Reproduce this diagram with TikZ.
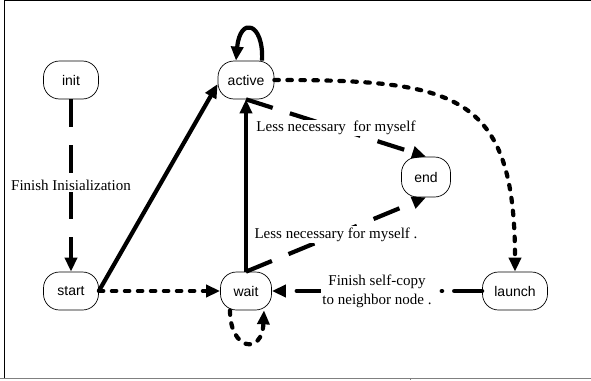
\documentclass[tikz,border=0pt]{standalone}
\usepackage{fontspec}
\setmainfont{Liberation Serif}
\newfontfamily\sansf{Liberation Sans}
\usetikzlibrary{arrows.meta}
\begin{document}
\begin{tikzpicture}[x=1pt,y=-1pt,
  state/.style={draw, line width=0.7pt, rounded corners=16pt, minimum height=38pt, inner sep=0pt, font=\sansf\fontsize{14}{16}\selectfont},
  conn/.style={line width=4.2pt, -{Triangle[length=14pt,width=12pt]}},
  solidc/.style={conn},
  dashc/.style={conn, dash pattern=on 28pt off 18pt},
  dotc/.style={conn, line cap=round, dash pattern=on 4.5pt off 8.5pt},
  dashdotc/.style={conn, line cap=round, dash pattern=on 28pt off 12pt on 0.5pt off 12pt},
  lbl/.style={fill=white, inner sep=1.5pt, font=\fontsize{15}{19}\selectfont, align=center}
]
\useasboundingbox (0,0) rectangle (591,380);
% frame
\draw[line width=1.3pt] (4,0.6) -- (591,0.6);
\draw[line width=1pt] (4,0) -- (4,378);
\draw[gray, line width=1.5pt] (0,378.5) -- (591,378.5);
\draw[gray, line width=0.8pt] (410,378) -- (410,380);
% nodes
\node[state, minimum width=55pt] (init) at (71,80) {init};
\node[state, minimum width=56pt] (active) at (246,80) {active};
\node[state, minimum width=55pt] (start) at (71,291) {start};
\node[state, minimum width=51pt] (wait) at (246,291) {wait};
\node[state, minimum width=49pt, minimum height=40pt] (end) at (426,177) {end};
\node[state, minimum width=65pt] (launch) at (515,291) {launch};
% edges
\draw[dashc] (init) -- node[lbl]{Finish Inisialization} (start);
\draw[solidc] (start.east) -- ([yshift=-4pt]active.west);
\draw[dotc] (start.east) -- (wait.west);
\draw[solidc] (wait.north) -- (active.south);
\draw[dashc] (active.south) -- node[lbl]{Less necessary\ \ for myself} (end.north);
\draw[dashc] (wait.north) -- node[lbl]{Less necessary for myself .} (end.south);
\draw[solidc] ([xshift=16pt]active.north) .. controls +(2,-38) and +(4,-45) .. ([xshift=-10pt]active.north);
\draw[dotc] (active.east) to[out=0,in=90,looseness=1.5] (launch.north);
\draw[dashdotc] (launch.west) -- node[lbl]{Finish self-copy\\to neighbor node .} (wait.east);
\draw[dotc] ([xshift=-16pt]wait.south) .. controls +(0,40) and +(-2,45) .. ([xshift=18pt]wait.south);
\end{tikzpicture}
\end{document}
